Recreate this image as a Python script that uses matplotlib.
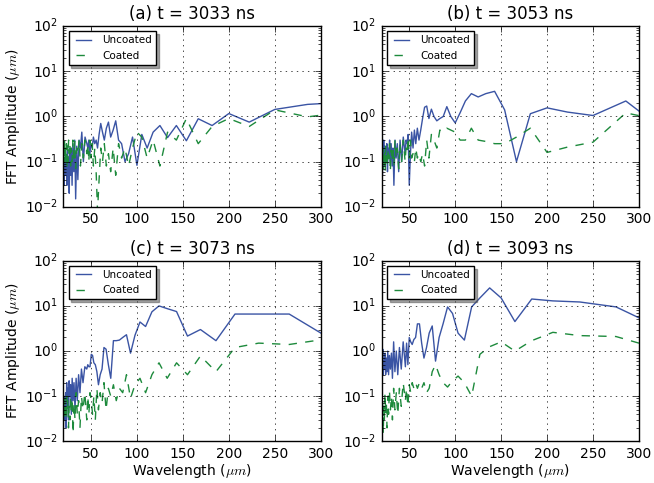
import matplotlib
matplotlib.use("Agg")
import matplotlib.pyplot as plt

plt.style.use("classic")
plt.rcParams["figure.facecolor"] = "white"
plt.rcParams["savefig.facecolor"] = "white"

# wavelength samples (um)
wl_ab = [333.3, 285.7, 250.0, 222.2, 200.0, 181.8, 166.7, 153.8, 142.9, 133.3,
         125.0, 117.6, 111.1, 105.3, 100.0, 95.2, 90.9, 87.0, 83.3, 80.0,
         76.9, 74.1, 71.4, 69.0, 66.7, 64.5, 62.5, 60.6, 58.8, 57.1,
         55.6, 54.1, 52.6, 51.3, 50.0, 48.8, 47.6, 46.5, 45.5,
         43.5, 41.7, 40.0, 38.5, 37.0, 35.7, 34.5, 33.3, 32.3, 31.3,
         30.3, 29.4, 28.6, 27.8, 27.0, 26.3, 25.6, 25.0, 24.4, 23.8,
         23.3, 22.7, 22.2, 21.7, 21.3, 20.8, 20.4, 20.0]
wl_c = [310.0, 265.7, 232.5, 206.7, 186.0, 169.1, 155.0, 143.1, 132.9, 124.0,
        116.3, 109.4, 103.3, 97.9, 93.0, 88.6, 84.5, 80.9, 77.5, 74.4,
        71.5, 68.9, 66.4, 64.1, 62.0, 60.0, 58.1, 56.4, 54.7, 53.1,
        51.7, 50.3, 48.9, 47.7, 46.5, 45.4,
        43.3, 41.3, 39.6, 38.0, 36.5, 35.1, 33.8, 32.6, 31.5, 30.5,
        29.5, 28.6, 27.8, 27.0, 26.2, 25.5, 24.8, 24.2, 23.5, 23.0,
        22.4, 21.9, 21.4, 20.9, 20.4, 20.0]
wl_d = [330.0, 275.0, 235.7, 206.3, 183.3, 165.0, 150.0, 137.5, 126.9, 117.9,
        110.0, 103.1, 97.1, 91.7, 86.8, 82.5, 78.6, 75.0, 71.7, 68.8,
        66.0, 63.5, 61.1, 58.9, 56.9, 55.0, 53.2, 51.6, 50.0, 48.5,
        47.1, 45.8,
        43.4, 41.3, 39.3, 37.5, 35.9, 34.4, 33.0, 31.7, 30.6, 29.5,
        28.4, 27.5, 26.6, 25.8, 25.0, 24.3, 23.6, 22.9, 22.3, 21.7,
        21.2, 20.6, 20.1]

# FFT amplitudes (um)
uncoated_a = [2.1, 1.85, 1.43, 0.75, 1.16, 0.63, 0.89, 0.29, 0.63, 0.34,
              0.63, 0.45, 0.2, 0.4, 0.083, 0.35, 0.15, 0.1, 0.25, 0.3,
              0.8, 0.5, 0.35, 0.75, 0.55, 0.3, 0.45, 0.7, 0.4, 0.2,
              0.3, 0.25, 0.35, 0.2, 0.25, 0.15, 0.3, 0.2, 0.25,
              0.35, 0.1, 0.45, 0.2, 0.3, 0.04, 0.22, 0.015, 0.3, 0.06,
              0.25, 0.03, 0.18, 0.05, 0.2, 0.02, 0.12, 0.04, 0.2, 0.03,
              0.1, 0.05, 0.15, 0.06, 0.08, 0.03, 0.12, 0.05]
coated_a = [1.3, 0.98, 1.4, 0.6, 0.9, 0.6, 0.25, 0.9, 0.3, 0.45,
            0.08, 0.3, 0.12, 0.35, 0.45, 0.2, 0.08, 0.2, 0.12, 0.25,
            0.05, 0.2, 0.06, 0.15, 0.08, 0.25, 0.1, 0.2, 0.04, 0.008,
            0.06, 0.2, 0.08, 0.25, 0.12, 0.3, 0.1, 0.25, 0.15,
            0.3, 0.12, 0.25, 0.08, 0.3, 0.15, 0.2, 0.07, 0.28, 0.12,
            0.3, 0.1, 0.2, 0.08, 0.25, 0.15, 0.3, 0.1, 0.22, 0.07,
            0.25, 0.12, 0.2, 0.09, 0.3, 0.1, 0.2, 0.15]
uncoated_b = [0.4, 2.2, 1.05, 1.25, 1.55, 1.15, 0.1, 1.4, 3.6, 3.2,
              2.7, 3.2, 2.2, 1.2, 0.72, 1.0, 1.65, 1.0, 0.9, 0.8,
              1.0, 1.45, 0.9, 1.7, 1.6, 0.9, 0.5, 0.3, 0.55, 0.25,
              0.5, 0.2, 0.45, 0.15, 0.03, 0.4, 0.25, 0.3, 0.15,
              0.35, 0.1, 0.3, 0.06, 0.25, 0.12, 0.3, 0.03, 0.2, 0.08,
              0.25, 0.1, 0.3, 0.12, 0.2, 0.06, 0.25, 0.1, 0.18, 0.08,
              0.22, 0.12, 0.3, 0.1, 0.2, 0.05, 0.15, 0.015]
coated_b = [0.75, 1.2, 0.27, 0.21, 0.16, 0.55, 0.35, 0.25, 0.25, 0.28,
            0.3, 0.55, 0.3, 0.3, 0.45, 0.5, 0.55, 0.45, 0.5, 0.2,
            0.3, 0.4, 0.12, 0.3, 0.08, 0.15, 0.1, 0.15, 0.12, 0.2,
            0.1, 0.15, 0.12, 0.3, 0.12, 0.35, 0.15, 0.2, 0.1,
            0.3, 0.1, 0.25, 0.07, 0.2, 0.12, 0.3, 0.08, 0.22, 0.1,
            0.18, 0.06, 0.25, 0.12, 0.2, 0.08, 0.15, 0.1, 0.22, 0.06,
            0.18, 0.09, 0.14, 0.07, 0.2, 0.1, 0.12, 0.08]
uncoated_c = [1.9, 6.6, 6.6, 6.6, 1.7, 3.0, 2.15, 7.5, 8.7, 10.0,
              7.4, 3.5, 4.4, 2.25, 0.9, 2.3, 2.0, 1.75, 1.7, 1.7,
              0.25, 0.5, 1.1, 1.2, 0.4, 0.3, 0.18, 0.35, 0.5, 0.55,
              0.8, 0.85, 0.45, 0.45, 0.5, 0.4,
              0.45, 0.2, 0.4, 0.12, 0.3, 0.08, 0.25, 0.05, 0.2, 0.08,
              0.25, 0.04, 0.18, 0.1, 0.22, 0.03, 0.15, 0.06, 0.2, 0.02,
              0.12, 0.05, 0.1, 0.03, 0.08, 0.02]
coated_c = [1.9, 1.4, 1.5, 1.2, 0.35, 0.78, 0.3, 0.55, 0.25, 0.55,
            0.3, 0.12, 0.25, 0.18, 0.09, 0.3, 0.12, 0.15, 0.08, 0.18,
            0.1, 0.15, 0.05, 0.2, 0.07, 0.12, 0.05, 0.15, 0.03, 0.1,
            0.04, 0.08, 0.12, 0.04, 0.1, 0.03,
            0.12, 0.05, 0.1, 0.02, 0.08, 0.04, 0.12, 0.03, 0.07, 0.015,
            0.09, 0.04, 0.1, 0.03, 0.06, 0.02, 0.08, 0.05, 0.1, 0.03,
            0.07, 0.04, 0.09, 0.03, 0.06, 0.05]
uncoated_d = [2.8, 9.5, 12.2, 12.9, 14.2, 4.5, 15.0, 25.0, 15.0, 9.5,
              1.75, 2.5, 6.8, 9.5, 4.0, 2.0, 0.6, 3.6, 2.5, 1.2,
              0.7, 1.5, 4.0, 4.0, 2.0, 1.8, 1.4, 1.6, 2.0, 0.5,
              1.5, 0.45,
              1.6, 0.4, 1.2, 0.3, 1.0, 0.35, 1.6, 0.25, 0.9, 0.4,
              0.8, 0.3, 1.0, 0.35, 0.7, 0.3, 0.9, 0.4, 0.6, 0.3,
              1.1, 0.5, 0.8]
coated_d = [1.0, 2.1, 2.2, 2.6, 1.7, 1.0, 1.6, 1.25, 0.85, 0.1,
            0.2, 0.28, 0.22, 0.16, 0.2, 0.3, 0.5, 0.35, 0.15, 0.12,
            0.2, 0.15, 0.2, 0.15, 0.2, 0.15, 0.2, 0.12, 0.18, 0.06,
            0.15, 0.08,
            0.2, 0.06, 0.15, 0.04, 0.12, 0.05, 0.15, 0.03, 0.1, 0.05,
            0.14, 0.04, 0.1, 0.02, 0.08, 0.04, 0.12, 0.03, 0.06, 0.015,
            0.08, 0.04, 0.1]

titles = ["(a) t = 3033 ns", "(b) t = 3053 ns", "(c) t = 3073 ns", "(d) t = 3093 ns"]
wavelengths = [wl_ab, wl_ab, wl_c, wl_d]
uncoated = [uncoated_a, uncoated_b, uncoated_c, uncoated_d]
coated = [coated_a, coated_b, coated_c, coated_d]

blue = "#3a54a4"
green = "#1d8a3c"

fig, axes = plt.subplots(2, 2, figsize=(6.54, 4.83), dpi=100)
fig.subplots_adjust(left=0.097, right=0.977, top=0.946, bottom=0.086,
                    wspace=0.237, hspace=0.298)

for i, ax in enumerate(axes.flat):
    ax.plot(wavelengths[i], uncoated[i], "-", color=blue, lw=1.0, label="Uncoated")
    ax.plot(wavelengths[i], coated[i], "--", color=green, lw=1.0, label="Coated")
    ax.set_yscale("log")
    ax.set_xlim(20, 300)
    ax.set_ylim(1e-2, 1e2)
    ax.set_xticks([50, 100, 150, 200, 250, 300])
    ax.grid(True, which="major")
    ax.tick_params(labelsize=10)
    ax.set_title(titles[i], fontsize=12)
    ax.legend(loc="upper left", fontsize=7.5, shadow=True, fancybox=False)
    if i % 2 == 0:
        ax.set_ylabel(r"FFT Amplitude ($\mu m$)", fontsize=10, labelpad=2)
    if i >= 2:
        ax.set_xlabel(r"Wavelength ($\mu m$)", fontsize=10, labelpad=1)

fig.savefig("out.png", dpi=100)
